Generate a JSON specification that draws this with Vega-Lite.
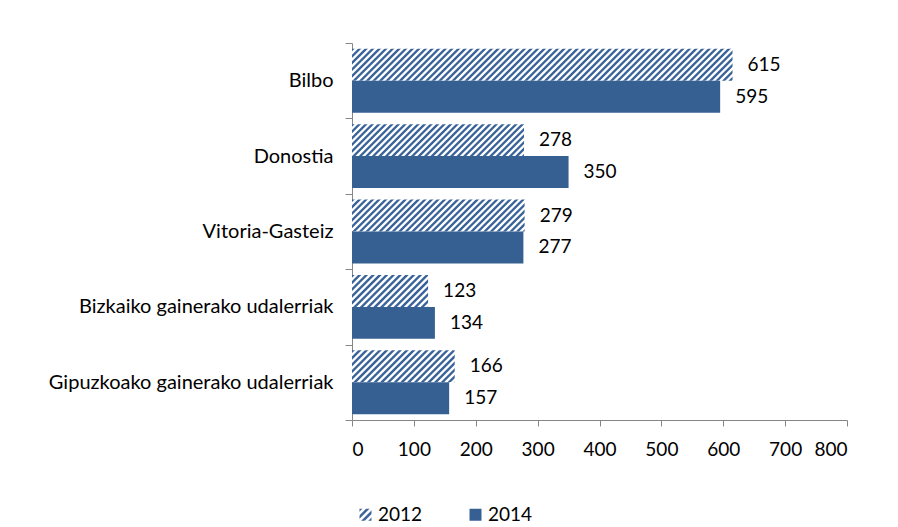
{
  "$schema": "https://vega.github.io/schema/vega-lite/v6.json",
  "width": 495,
  "height": 377,
  "autosize": {"type": "none"},
  "padding": {"left": 352, "top": 43, "right": 51, "bottom": 107},
  "params": [
    {"name": "legGrad", "value": {"gradient": "linear", "x1": 0, "y1": 0, "x2": 1, "y2": 1, "stops": [
      {"offset": 0, "color": "#3a6499"}, {"offset": 0.09, "color": "#3a6499"}, {"offset": 0.15, "color": "#fff"}, {"offset": 0.24, "color": "#fff"},
      {"offset": 0.3, "color": "#3a6499"}, {"offset": 0.39, "color": "#3a6499"}, {"offset": 0.45, "color": "#fff"}, {"offset": 0.54, "color": "#fff"},
      {"offset": 0.6, "color": "#3a6499"}, {"offset": 0.69, "color": "#3a6499"}, {"offset": 0.75, "color": "#fff"}, {"offset": 0.84, "color": "#fff"},
      {"offset": 0.9, "color": "#3a6499"}, {"offset": 1, "color": "#3a6499"}]}}
  ],
  "config": {
    "font": "Lato",
    "view": {"stroke": null},
    "axis": {"labelFont": "Lato", "labelFontSize": 19, "labelColor": "#000", "domainColor": "#868686", "tickColor": "#868686", "grid": false, "title": null, "labelLimit": 400},
    "legend": {"labelFont": "Lato", "labelFontSize": 19, "labelColor": "#000"}
  },
  "data": {"values": [
    {"city": "Bilbo", "year": "2012", "value": 615},
    {"city": "Bilbo", "year": "2014", "value": 595},
    {"city": "Donostia", "year": "2012", "value": 278},
    {"city": "Donostia", "year": "2014", "value": 350},
    {"city": "Vitoria-Gasteiz", "year": "2012", "value": 279},
    {"city": "Vitoria-Gasteiz", "year": "2014", "value": 277},
    {"city": "Bizkaiko gainerako udalerriak", "year": "2012", "value": 123},
    {"city": "Bizkaiko gainerako udalerriak", "year": "2014", "value": 134},
    {"city": "Gipuzkoako gainerako udalerriak", "year": "2012", "value": 166},
    {"city": "Gipuzkoako gainerako udalerriak", "year": "2014", "value": 157}
  ]},
  "encoding": {
    "y": {"field": "city", "type": "nominal",
      "sort": ["Bilbo", "Donostia", "Vitoria-Gasteiz", "Bizkaiko gainerako udalerriak", "Gipuzkoako gainerako udalerriak"],
      "scale": {"paddingInner": 0, "paddingOuter": 0},
      "axis": {"tickBand": "extent", "tickSize": 7, "labelPadding": 12, "domainWidth": 1, "tickWidth": 1, "labelLimit": 400, "labelFontSize": 20}},
    "yOffset": {"field": "year", "type": "nominal", "scale": {"paddingInner": 0, "paddingOuter": 0.18}},
    "x": {"field": "value", "type": "quantitative",
      "scale": {"domain": [0, 800], "nice": false},
      "axis": {"values": [0, 100, 200, 300, 400, 500, 600, 700, 800], "tickSize": 6, "labelPadding": 14, "domainWidth": 1, "tickWidth": 1}}
  },
  "layer": [
    {
      "mark": {"type": "bar"},
      "encoding": {
        "color": {
          "field": "year", "type": "nominal",
          "scale": {"domain": ["2012", "2014"], "range": [{"expr": "legGrad"}, "#376092"]},
          "legend": {
            "orient": "none", "legendX": 4, "legendY": 462, "direction": "horizontal", "title": null,
            "symbolType": "square", "symbolSize": 144, "symbolStrokeWidth": 0, "labelOffset": 3, "columnPadding": 43, "padding": 0
          },
          "condition": [
            {"test": "datum.year === '2012' && datum.city === 'Bilbo'", "value": {"gradient": "linear", "x1": 0, "y1": 0, "x2": 1.0764, "y2": 0.0904, "stops": [
              {"offset": 0, "color": "#3a6499"}, {"offset": 0.0048, "color": "#3a6499"}, {"offset": 0.008, "color": "#fff"}, {"offset": 0.0128, "color": "#fff"},
              {"offset": 0.016, "color": "#3a6499"}, {"offset": 0.0208, "color": "#3a6499"}, {"offset": 0.024, "color": "#fff"}, {"offset": 0.0288, "color": "#fff"},
              {"offset": 0.032, "color": "#3a6499"}, {"offset": 0.0368, "color": "#3a6499"}, {"offset": 0.04, "color": "#fff"}, {"offset": 0.0448, "color": "#fff"},
              {"offset": 0.048, "color": "#3a6499"}, {"offset": 0.0528, "color": "#3a6499"}, {"offset": 0.056, "color": "#fff"}, {"offset": 0.0608, "color": "#fff"},
              {"offset": 0.064, "color": "#3a6499"}, {"offset": 0.0688, "color": "#3a6499"}, {"offset": 0.072, "color": "#fff"}, {"offset": 0.0768, "color": "#fff"},
              {"offset": 0.08, "color": "#3a6499"}, {"offset": 0.0848, "color": "#3a6499"}, {"offset": 0.088, "color": "#fff"}, {"offset": 0.0928, "color": "#fff"},
              {"offset": 0.096, "color": "#3a6499"}, {"offset": 0.1008, "color": "#3a6499"}, {"offset": 0.104, "color": "#fff"}, {"offset": 0.1088, "color": "#fff"},
              {"offset": 0.112, "color": "#3a6499"}, {"offset": 0.1168, "color": "#3a6499"}, {"offset": 0.12, "color": "#fff"}, {"offset": 0.1248, "color": "#fff"},
              {"offset": 0.128, "color": "#3a6499"}, {"offset": 0.1328, "color": "#3a6499"}, {"offset": 0.136, "color": "#fff"}, {"offset": 0.1408, "color": "#fff"},
              {"offset": 0.144, "color": "#3a6499"}, {"offset": 0.1488, "color": "#3a6499"}, {"offset": 0.152, "color": "#fff"}, {"offset": 0.1568, "color": "#fff"},
              {"offset": 0.16, "color": "#3a6499"}, {"offset": 0.1648, "color": "#3a6499"}, {"offset": 0.168, "color": "#fff"}, {"offset": 0.1728, "color": "#fff"},
              {"offset": 0.176, "color": "#3a6499"}, {"offset": 0.1808, "color": "#3a6499"}, {"offset": 0.184, "color": "#fff"}, {"offset": 0.1888, "color": "#fff"},
              {"offset": 0.192, "color": "#3a6499"}, {"offset": 0.1968, "color": "#3a6499"}, {"offset": 0.2, "color": "#fff"}, {"offset": 0.2048, "color": "#fff"},
              {"offset": 0.208, "color": "#3a6499"}, {"offset": 0.2128, "color": "#3a6499"}, {"offset": 0.216, "color": "#fff"}, {"offset": 0.2208, "color": "#fff"},
              {"offset": 0.224, "color": "#3a6499"}, {"offset": 0.2288, "color": "#3a6499"}, {"offset": 0.232, "color": "#fff"}, {"offset": 0.2368, "color": "#fff"},
              {"offset": 0.24, "color": "#3a6499"}, {"offset": 0.2448, "color": "#3a6499"}, {"offset": 0.248, "color": "#fff"}, {"offset": 0.2528, "color": "#fff"},
              {"offset": 0.256, "color": "#3a6499"}, {"offset": 0.2608, "color": "#3a6499"}, {"offset": 0.264, "color": "#fff"}, {"offset": 0.2688, "color": "#fff"},
              {"offset": 0.272, "color": "#3a6499"}, {"offset": 0.2768, "color": "#3a6499"}, {"offset": 0.28, "color": "#fff"}, {"offset": 0.2848, "color": "#fff"},
              {"offset": 0.288, "color": "#3a6499"}, {"offset": 0.2928, "color": "#3a6499"}, {"offset": 0.296, "color": "#fff"}, {"offset": 0.3008, "color": "#fff"},
              {"offset": 0.304, "color": "#3a6499"}, {"offset": 0.3088, "color": "#3a6499"}, {"offset": 0.312, "color": "#fff"}, {"offset": 0.3168, "color": "#fff"},
              {"offset": 0.32, "color": "#3a6499"}, {"offset": 0.3248, "color": "#3a6499"}, {"offset": 0.328, "color": "#fff"}, {"offset": 0.3328, "color": "#fff"},
              {"offset": 0.336, "color": "#3a6499"}, {"offset": 0.3408, "color": "#3a6499"}, {"offset": 0.344, "color": "#fff"}, {"offset": 0.3488, "color": "#fff"},
              {"offset": 0.352, "color": "#3a6499"}, {"offset": 0.3568, "color": "#3a6499"}, {"offset": 0.36, "color": "#fff"}, {"offset": 0.3648, "color": "#fff"},
              {"offset": 0.368, "color": "#3a6499"}, {"offset": 0.3728, "color": "#3a6499"}, {"offset": 0.376, "color": "#fff"}, {"offset": 0.3808, "color": "#fff"},
              {"offset": 0.384, "color": "#3a6499"}, {"offset": 0.3888, "color": "#3a6499"}, {"offset": 0.392, "color": "#fff"}, {"offset": 0.3968, "color": "#fff"},
              {"offset": 0.4, "color": "#3a6499"}, {"offset": 0.4048, "color": "#3a6499"}, {"offset": 0.408, "color": "#fff"}, {"offset": 0.4128, "color": "#fff"},
              {"offset": 0.416, "color": "#3a6499"}, {"offset": 0.4208, "color": "#3a6499"}, {"offset": 0.424, "color": "#fff"}, {"offset": 0.4288, "color": "#fff"},
              {"offset": 0.432, "color": "#3a6499"}, {"offset": 0.4368, "color": "#3a6499"}, {"offset": 0.44, "color": "#fff"}, {"offset": 0.4448, "color": "#fff"},
              {"offset": 0.448, "color": "#3a6499"}, {"offset": 0.4528, "color": "#3a6499"}, {"offset": 0.456, "color": "#fff"}, {"offset": 0.4608, "color": "#fff"},
              {"offset": 0.464, "color": "#3a6499"}, {"offset": 0.4688, "color": "#3a6499"}, {"offset": 0.472, "color": "#fff"}, {"offset": 0.4768, "color": "#fff"},
              {"offset": 0.48, "color": "#3a6499"}, {"offset": 0.4848, "color": "#3a6499"}, {"offset": 0.488, "color": "#fff"}, {"offset": 0.4928, "color": "#fff"},
              {"offset": 0.496, "color": "#3a6499"}, {"offset": 0.5008, "color": "#3a6499"}, {"offset": 0.504, "color": "#fff"}, {"offset": 0.5088, "color": "#fff"},
              {"offset": 0.512, "color": "#3a6499"}, {"offset": 0.5168, "color": "#3a6499"}, {"offset": 0.52, "color": "#fff"}, {"offset": 0.5248, "color": "#fff"},
              {"offset": 0.528, "color": "#3a6499"}, {"offset": 0.5328, "color": "#3a6499"}, {"offset": 0.536, "color": "#fff"}, {"offset": 0.5408, "color": "#fff"},
              {"offset": 0.544, "color": "#3a6499"}, {"offset": 0.5488, "color": "#3a6499"}, {"offset": 0.552, "color": "#fff"}, {"offset": 0.5568, "color": "#fff"},
              {"offset": 0.56, "color": "#3a6499"}, {"offset": 0.5648, "color": "#3a6499"}, {"offset": 0.568, "color": "#fff"}, {"offset": 0.5728, "color": "#fff"},
              {"offset": 0.576, "color": "#3a6499"}, {"offset": 0.5808, "color": "#3a6499"}, {"offset": 0.584, "color": "#fff"}, {"offset": 0.5888, "color": "#fff"},
              {"offset": 0.592, "color": "#3a6499"}, {"offset": 0.5968, "color": "#3a6499"}, {"offset": 0.6, "color": "#fff"}, {"offset": 0.6048, "color": "#fff"},
              {"offset": 0.608, "color": "#3a6499"}, {"offset": 0.6128, "color": "#3a6499"}, {"offset": 0.616, "color": "#fff"}, {"offset": 0.6208, "color": "#fff"},
              {"offset": 0.624, "color": "#3a6499"}, {"offset": 0.6288, "color": "#3a6499"}, {"offset": 0.632, "color": "#fff"}, {"offset": 0.6368, "color": "#fff"},
              {"offset": 0.64, "color": "#3a6499"}, {"offset": 0.6448, "color": "#3a6499"}, {"offset": 0.648, "color": "#fff"}, {"offset": 0.6528, "color": "#fff"},
              {"offset": 0.656, "color": "#3a6499"}, {"offset": 0.6608, "color": "#3a6499"}, {"offset": 0.664, "color": "#fff"}, {"offset": 0.6688, "color": "#fff"},
              {"offset": 0.672, "color": "#3a6499"}, {"offset": 0.6768, "color": "#3a6499"}, {"offset": 0.68, "color": "#fff"}, {"offset": 0.6848, "color": "#fff"},
              {"offset": 0.688, "color": "#3a6499"}, {"offset": 0.6928, "color": "#3a6499"}, {"offset": 0.696, "color": "#fff"}, {"offset": 0.7008, "color": "#fff"},
              {"offset": 0.704, "color": "#3a6499"}, {"offset": 0.7088, "color": "#3a6499"}, {"offset": 0.712, "color": "#fff"}, {"offset": 0.7168, "color": "#fff"},
              {"offset": 0.72, "color": "#3a6499"}, {"offset": 0.7248, "color": "#3a6499"}, {"offset": 0.728, "color": "#fff"}, {"offset": 0.7328, "color": "#fff"},
              {"offset": 0.736, "color": "#3a6499"}, {"offset": 0.7408, "color": "#3a6499"}, {"offset": 0.744, "color": "#fff"}, {"offset": 0.7488, "color": "#fff"},
              {"offset": 0.752, "color": "#3a6499"}, {"offset": 0.7568, "color": "#3a6499"}, {"offset": 0.76, "color": "#fff"}, {"offset": 0.7648, "color": "#fff"},
              {"offset": 0.768, "color": "#3a6499"}, {"offset": 0.7728, "color": "#3a6499"}, {"offset": 0.776, "color": "#fff"}, {"offset": 0.7808, "color": "#fff"},
              {"offset": 0.784, "color": "#3a6499"}, {"offset": 0.7888, "color": "#3a6499"}, {"offset": 0.792, "color": "#fff"}, {"offset": 0.7968, "color": "#fff"},
              {"offset": 0.8, "color": "#3a6499"}, {"offset": 0.8048, "color": "#3a6499"}, {"offset": 0.808, "color": "#fff"}, {"offset": 0.8128, "color": "#fff"},
              {"offset": 0.816, "color": "#3a6499"}, {"offset": 0.8208, "color": "#3a6499"}, {"offset": 0.824, "color": "#fff"}, {"offset": 0.8288, "color": "#fff"},
              {"offset": 0.832, "color": "#3a6499"}, {"offset": 0.8368, "color": "#3a6499"}, {"offset": 0.84, "color": "#fff"}, {"offset": 0.8448, "color": "#fff"},
              {"offset": 0.848, "color": "#3a6499"}, {"offset": 0.8528, "color": "#3a6499"}, {"offset": 0.856, "color": "#fff"}, {"offset": 0.8608, "color": "#fff"},
              {"offset": 0.864, "color": "#3a6499"}, {"offset": 0.8688, "color": "#3a6499"}, {"offset": 0.872, "color": "#fff"}, {"offset": 0.8768, "color": "#fff"},
              {"offset": 0.88, "color": "#3a6499"}, {"offset": 0.8848, "color": "#3a6499"}, {"offset": 0.888, "color": "#fff"}, {"offset": 0.8928, "color": "#fff"},
              {"offset": 0.896, "color": "#3a6499"}, {"offset": 0.9008, "color": "#3a6499"}, {"offset": 0.904, "color": "#fff"}, {"offset": 0.9088, "color": "#fff"},
              {"offset": 0.912, "color": "#3a6499"}, {"offset": 0.9168, "color": "#3a6499"}, {"offset": 0.92, "color": "#fff"}, {"offset": 0.9248, "color": "#fff"},
              {"offset": 0.928, "color": "#3a6499"}, {"offset": 0.9328, "color": "#3a6499"}, {"offset": 0.936, "color": "#fff"}, {"offset": 0.9408, "color": "#fff"},
              {"offset": 0.944, "color": "#3a6499"}, {"offset": 0.9488, "color": "#3a6499"}, {"offset": 0.952, "color": "#fff"}, {"offset": 0.9568, "color": "#fff"},
              {"offset": 0.96, "color": "#3a6499"}, {"offset": 0.9648, "color": "#3a6499"}, {"offset": 0.968, "color": "#fff"}, {"offset": 0.9728, "color": "#fff"},
              {"offset": 0.976, "color": "#3a6499"}, {"offset": 0.9808, "color": "#3a6499"}, {"offset": 0.984, "color": "#fff"}, {"offset": 0.9888, "color": "#fff"},
              {"offset": 0.992, "color": "#3a6499"}, {"offset": 0.9968, "color": "#3a6499"}, {"offset": 1, "color": "#fff"}]}},
            {"test": "datum.year === '2012' && (datum.city === 'Donostia' || datum.city === 'Vitoria-Gasteiz')", "value": {"gradient": "linear", "x1": 0, "y1": 0, "x2": 1.146, "y2": 0.2125, "stops": [
              {"offset": 0, "color": "#3a6499"}, {"offset": 0.0096, "color": "#3a6499"}, {"offset": 0.016, "color": "#fff"}, {"offset": 0.0256, "color": "#fff"},
              {"offset": 0.032, "color": "#3a6499"}, {"offset": 0.0416, "color": "#3a6499"}, {"offset": 0.048, "color": "#fff"}, {"offset": 0.0576, "color": "#fff"},
              {"offset": 0.064, "color": "#3a6499"}, {"offset": 0.0736, "color": "#3a6499"}, {"offset": 0.08, "color": "#fff"}, {"offset": 0.0896, "color": "#fff"},
              {"offset": 0.096, "color": "#3a6499"}, {"offset": 0.1056, "color": "#3a6499"}, {"offset": 0.112, "color": "#fff"}, {"offset": 0.1216, "color": "#fff"},
              {"offset": 0.128, "color": "#3a6499"}, {"offset": 0.1376, "color": "#3a6499"}, {"offset": 0.144, "color": "#fff"}, {"offset": 0.1536, "color": "#fff"},
              {"offset": 0.16, "color": "#3a6499"}, {"offset": 0.1696, "color": "#3a6499"}, {"offset": 0.176, "color": "#fff"}, {"offset": 0.1856, "color": "#fff"},
              {"offset": 0.192, "color": "#3a6499"}, {"offset": 0.2016, "color": "#3a6499"}, {"offset": 0.208, "color": "#fff"}, {"offset": 0.2176, "color": "#fff"},
              {"offset": 0.224, "color": "#3a6499"}, {"offset": 0.2336, "color": "#3a6499"}, {"offset": 0.24, "color": "#fff"}, {"offset": 0.2496, "color": "#fff"},
              {"offset": 0.256, "color": "#3a6499"}, {"offset": 0.2656, "color": "#3a6499"}, {"offset": 0.272, "color": "#fff"}, {"offset": 0.2816, "color": "#fff"},
              {"offset": 0.288, "color": "#3a6499"}, {"offset": 0.2976, "color": "#3a6499"}, {"offset": 0.304, "color": "#fff"}, {"offset": 0.3136, "color": "#fff"},
              {"offset": 0.32, "color": "#3a6499"}, {"offset": 0.3296, "color": "#3a6499"}, {"offset": 0.336, "color": "#fff"}, {"offset": 0.3456, "color": "#fff"},
              {"offset": 0.352, "color": "#3a6499"}, {"offset": 0.3616, "color": "#3a6499"}, {"offset": 0.368, "color": "#fff"}, {"offset": 0.3776, "color": "#fff"},
              {"offset": 0.384, "color": "#3a6499"}, {"offset": 0.3936, "color": "#3a6499"}, {"offset": 0.4, "color": "#fff"}, {"offset": 0.4096, "color": "#fff"},
              {"offset": 0.416, "color": "#3a6499"}, {"offset": 0.4256, "color": "#3a6499"}, {"offset": 0.432, "color": "#fff"}, {"offset": 0.4416, "color": "#fff"},
              {"offset": 0.448, "color": "#3a6499"}, {"offset": 0.4576, "color": "#3a6499"}, {"offset": 0.464, "color": "#fff"}, {"offset": 0.4736, "color": "#fff"},
              {"offset": 0.48, "color": "#3a6499"}, {"offset": 0.4896, "color": "#3a6499"}, {"offset": 0.496, "color": "#fff"}, {"offset": 0.5056, "color": "#fff"},
              {"offset": 0.512, "color": "#3a6499"}, {"offset": 0.5216, "color": "#3a6499"}, {"offset": 0.528, "color": "#fff"}, {"offset": 0.5376, "color": "#fff"},
              {"offset": 0.544, "color": "#3a6499"}, {"offset": 0.5536, "color": "#3a6499"}, {"offset": 0.56, "color": "#fff"}, {"offset": 0.5696, "color": "#fff"},
              {"offset": 0.576, "color": "#3a6499"}, {"offset": 0.5856, "color": "#3a6499"}, {"offset": 0.592, "color": "#fff"}, {"offset": 0.6016, "color": "#fff"},
              {"offset": 0.608, "color": "#3a6499"}, {"offset": 0.6176, "color": "#3a6499"}, {"offset": 0.624, "color": "#fff"}, {"offset": 0.6336, "color": "#fff"},
              {"offset": 0.64, "color": "#3a6499"}, {"offset": 0.6496, "color": "#3a6499"}, {"offset": 0.656, "color": "#fff"}, {"offset": 0.6656, "color": "#fff"},
              {"offset": 0.672, "color": "#3a6499"}, {"offset": 0.6816, "color": "#3a6499"}, {"offset": 0.688, "color": "#fff"}, {"offset": 0.6976, "color": "#fff"},
              {"offset": 0.704, "color": "#3a6499"}, {"offset": 0.7136, "color": "#3a6499"}, {"offset": 0.72, "color": "#fff"}, {"offset": 0.7296, "color": "#fff"},
              {"offset": 0.736, "color": "#3a6499"}, {"offset": 0.7456, "color": "#3a6499"}, {"offset": 0.752, "color": "#fff"}, {"offset": 0.7616, "color": "#fff"},
              {"offset": 0.768, "color": "#3a6499"}, {"offset": 0.7776, "color": "#3a6499"}, {"offset": 0.784, "color": "#fff"}, {"offset": 0.7936, "color": "#fff"},
              {"offset": 0.8, "color": "#3a6499"}, {"offset": 0.8096, "color": "#3a6499"}, {"offset": 0.816, "color": "#fff"}, {"offset": 0.8256, "color": "#fff"},
              {"offset": 0.832, "color": "#3a6499"}, {"offset": 0.8416, "color": "#3a6499"}, {"offset": 0.848, "color": "#fff"}, {"offset": 0.8576, "color": "#fff"},
              {"offset": 0.864, "color": "#3a6499"}, {"offset": 0.8736, "color": "#3a6499"}, {"offset": 0.88, "color": "#fff"}, {"offset": 0.8896, "color": "#fff"},
              {"offset": 0.896, "color": "#3a6499"}, {"offset": 0.9056, "color": "#3a6499"}, {"offset": 0.912, "color": "#fff"}, {"offset": 0.9216, "color": "#fff"},
              {"offset": 0.928, "color": "#3a6499"}, {"offset": 0.9376, "color": "#3a6499"}, {"offset": 0.944, "color": "#fff"}, {"offset": 0.9536, "color": "#fff"},
              {"offset": 0.96, "color": "#3a6499"}, {"offset": 0.9696, "color": "#3a6499"}, {"offset": 0.976, "color": "#fff"}, {"offset": 0.9856, "color": "#fff"},
              {"offset": 0.992, "color": "#3a6499"}, {"offset": 1, "color": "#3a6499"}]}},
            {"test": "datum.year === '2012' && datum.city === 'Bizkaiko gainerako udalerriak'", "value": {"gradient": "linear", "x1": 0, "y1": 0, "x2": 1.2071, "y2": 0.5067, "stops": [
              {"offset": 0, "color": "#3a6499"}, {"offset": 0.01875, "color": "#3a6499"}, {"offset": 0.03125, "color": "#fff"}, {"offset": 0.05, "color": "#fff"},
              {"offset": 0.0625, "color": "#3a6499"}, {"offset": 0.08125, "color": "#3a6499"}, {"offset": 0.09375, "color": "#fff"}, {"offset": 0.1125, "color": "#fff"},
              {"offset": 0.125, "color": "#3a6499"}, {"offset": 0.14375, "color": "#3a6499"}, {"offset": 0.15625, "color": "#fff"}, {"offset": 0.175, "color": "#fff"},
              {"offset": 0.1875, "color": "#3a6499"}, {"offset": 0.20625, "color": "#3a6499"}, {"offset": 0.21875, "color": "#fff"}, {"offset": 0.2375, "color": "#fff"},
              {"offset": 0.25, "color": "#3a6499"}, {"offset": 0.26875, "color": "#3a6499"}, {"offset": 0.28125, "color": "#fff"}, {"offset": 0.3, "color": "#fff"},
              {"offset": 0.3125, "color": "#3a6499"}, {"offset": 0.33125, "color": "#3a6499"}, {"offset": 0.34375, "color": "#fff"}, {"offset": 0.3625, "color": "#fff"},
              {"offset": 0.375, "color": "#3a6499"}, {"offset": 0.39375, "color": "#3a6499"}, {"offset": 0.40625, "color": "#fff"}, {"offset": 0.425, "color": "#fff"},
              {"offset": 0.4375, "color": "#3a6499"}, {"offset": 0.45625, "color": "#3a6499"}, {"offset": 0.46875, "color": "#fff"}, {"offset": 0.4875, "color": "#fff"},
              {"offset": 0.5, "color": "#3a6499"}, {"offset": 0.51875, "color": "#3a6499"}, {"offset": 0.53125, "color": "#fff"}, {"offset": 0.55, "color": "#fff"},
              {"offset": 0.5625, "color": "#3a6499"}, {"offset": 0.58125, "color": "#3a6499"}, {"offset": 0.59375, "color": "#fff"}, {"offset": 0.6125, "color": "#fff"},
              {"offset": 0.625, "color": "#3a6499"}, {"offset": 0.64375, "color": "#3a6499"}, {"offset": 0.65625, "color": "#fff"}, {"offset": 0.675, "color": "#fff"},
              {"offset": 0.6875, "color": "#3a6499"}, {"offset": 0.70625, "color": "#3a6499"}, {"offset": 0.71875, "color": "#fff"}, {"offset": 0.7375, "color": "#fff"},
              {"offset": 0.75, "color": "#3a6499"}, {"offset": 0.76875, "color": "#3a6499"}, {"offset": 0.78125, "color": "#fff"}, {"offset": 0.8, "color": "#fff"},
              {"offset": 0.8125, "color": "#3a6499"}, {"offset": 0.83125, "color": "#3a6499"}, {"offset": 0.84375, "color": "#fff"}, {"offset": 0.8625, "color": "#fff"},
              {"offset": 0.875, "color": "#3a6499"}, {"offset": 0.89375, "color": "#3a6499"}, {"offset": 0.90625, "color": "#fff"}, {"offset": 0.925, "color": "#fff"},
              {"offset": 0.9375, "color": "#3a6499"}, {"offset": 0.95625, "color": "#3a6499"}, {"offset": 0.96875, "color": "#fff"}, {"offset": 0.9875, "color": "#fff"},
              {"offset": 1, "color": "#3a6499"}]}},
            {"test": "datum.year === '2012' && datum.city === 'Gipuzkoako gainerako udalerriak'", "value": {"gradient": "linear", "x1": 0, "y1": 0, "x2": 1.1954, "y2": 0.3719, "stops": [
              {"offset": 0, "color": "#3a6499"}, {"offset": 0.015, "color": "#3a6499"}, {"offset": 0.025, "color": "#fff"}, {"offset": 0.04, "color": "#fff"},
              {"offset": 0.05, "color": "#3a6499"}, {"offset": 0.065, "color": "#3a6499"}, {"offset": 0.075, "color": "#fff"}, {"offset": 0.09, "color": "#fff"},
              {"offset": 0.1, "color": "#3a6499"}, {"offset": 0.115, "color": "#3a6499"}, {"offset": 0.125, "color": "#fff"}, {"offset": 0.14, "color": "#fff"},
              {"offset": 0.15, "color": "#3a6499"}, {"offset": 0.165, "color": "#3a6499"}, {"offset": 0.175, "color": "#fff"}, {"offset": 0.19, "color": "#fff"},
              {"offset": 0.2, "color": "#3a6499"}, {"offset": 0.215, "color": "#3a6499"}, {"offset": 0.225, "color": "#fff"}, {"offset": 0.24, "color": "#fff"},
              {"offset": 0.25, "color": "#3a6499"}, {"offset": 0.265, "color": "#3a6499"}, {"offset": 0.275, "color": "#fff"}, {"offset": 0.29, "color": "#fff"},
              {"offset": 0.3, "color": "#3a6499"}, {"offset": 0.315, "color": "#3a6499"}, {"offset": 0.325, "color": "#fff"}, {"offset": 0.34, "color": "#fff"},
              {"offset": 0.35, "color": "#3a6499"}, {"offset": 0.365, "color": "#3a6499"}, {"offset": 0.375, "color": "#fff"}, {"offset": 0.39, "color": "#fff"},
              {"offset": 0.4, "color": "#3a6499"}, {"offset": 0.415, "color": "#3a6499"}, {"offset": 0.425, "color": "#fff"}, {"offset": 0.44, "color": "#fff"},
              {"offset": 0.45, "color": "#3a6499"}, {"offset": 0.465, "color": "#3a6499"}, {"offset": 0.475, "color": "#fff"}, {"offset": 0.49, "color": "#fff"},
              {"offset": 0.5, "color": "#3a6499"}, {"offset": 0.515, "color": "#3a6499"}, {"offset": 0.525, "color": "#fff"}, {"offset": 0.54, "color": "#fff"},
              {"offset": 0.55, "color": "#3a6499"}, {"offset": 0.565, "color": "#3a6499"}, {"offset": 0.575, "color": "#fff"}, {"offset": 0.59, "color": "#fff"},
              {"offset": 0.6, "color": "#3a6499"}, {"offset": 0.615, "color": "#3a6499"}, {"offset": 0.625, "color": "#fff"}, {"offset": 0.64, "color": "#fff"},
              {"offset": 0.65, "color": "#3a6499"}, {"offset": 0.665, "color": "#3a6499"}, {"offset": 0.675, "color": "#fff"}, {"offset": 0.69, "color": "#fff"},
              {"offset": 0.7, "color": "#3a6499"}, {"offset": 0.715, "color": "#3a6499"}, {"offset": 0.725, "color": "#fff"}, {"offset": 0.74, "color": "#fff"},
              {"offset": 0.75, "color": "#3a6499"}, {"offset": 0.765, "color": "#3a6499"}, {"offset": 0.775, "color": "#fff"}, {"offset": 0.79, "color": "#fff"},
              {"offset": 0.8, "color": "#3a6499"}, {"offset": 0.815, "color": "#3a6499"}, {"offset": 0.825, "color": "#fff"}, {"offset": 0.84, "color": "#fff"},
              {"offset": 0.85, "color": "#3a6499"}, {"offset": 0.865, "color": "#3a6499"}, {"offset": 0.875, "color": "#fff"}, {"offset": 0.89, "color": "#fff"},
              {"offset": 0.9, "color": "#3a6499"}, {"offset": 0.915, "color": "#3a6499"}, {"offset": 0.925, "color": "#fff"}, {"offset": 0.94, "color": "#fff"},
              {"offset": 0.95, "color": "#3a6499"}, {"offset": 0.965, "color": "#3a6499"}, {"offset": 0.975, "color": "#fff"}, {"offset": 0.99, "color": "#fff"},
              {"offset": 1, "color": "#3a6499"}]}}
          ]
        }
      }
    },
    {
      "mark": {"type": "text", "align": "left", "baseline": "middle", "dx": 15, "fontSize": 19, "font": "Lato", "color": "#000"},
      "encoding": {"text": {"field": "value", "type": "quantitative"}}
    }
  ]
}
